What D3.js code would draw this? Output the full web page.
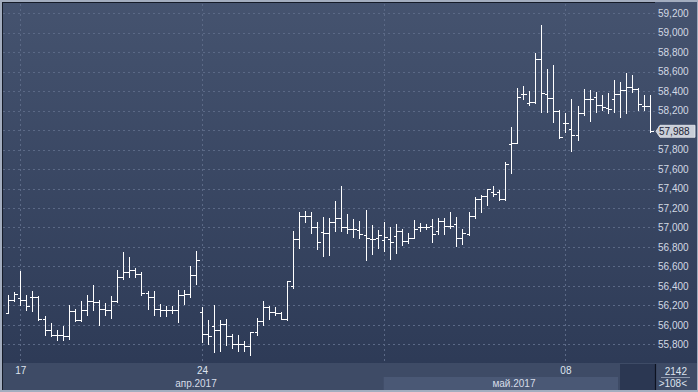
<!DOCTYPE html>
<html><head><meta charset="utf-8">
<script src="https://cdn.jsdelivr.net/npm/d3@7"></script>
<style>html,body{margin:0;padding:0;background:#a3adbf;}svg{display:block;}</style>
</head><body>
<svg id="c" width="698" height="392"></svg>
<script>
const open = [56124,56251,56278,56251,56281,56281,56063,55950,55892,55892,55885,56145,56053,56155,56248,56234,56162,56148,56248,56491,56542,56559,56525,56327,56286,56162,56148,56148,56148,56309,56319,56514,56128,55906,55991,55945,56009,55888,55803,55803,55786,55922,56042,56183,56132,56121,56063,56402,56884,57123,57123,57010,56953,56942,57061,57096,57004,56983,56976,56925,56881,56891,56874,56881,56915,56959,56856,56897,57004,57010,57017,56959,57069,57020,57035,56897,56932,57120,57291,57325,57363,57369,57291,57859,57872,58372,58276,58287,58734,58369,58328,58197,58071,58013,57951,58177,58318,58341,58259,58225,58321,58369,58413,58447,58420,58249,58249];
const high = [56309,56337,56555,56302,56350,56299,56094,56019,55950,55991,56204,56166,56240,56302,56412,56258,56224,56299,56566,56743,56692,56586,56542,56343,56343,56214,56189,56189,56353,56353,56607,56761,56183,56053,56207,56053,56063,55909,55899,55837,55926,56070,56248,56196,56183,56132,56453,56966,57158,57171,57158,57055,57107,57096,57274,57421,57140,57089,57069,57181,57028,56969,57055,57004,57038,56983,56942,57072,57051,57038,57086,57096,57096,57164,57103,56983,57158,57318,57335,57397,57421,57387,57677,58030,58437,58454,58403,58796,59080,58628,58670,58208,58174,58321,58249,58420,58413,58396,58362,58379,58516,58498,58584,58567,58433,58365,58362];
const low = [56124,56240,56207,56155,56145,56053,55899,55881,55847,55847,55855,56035,56035,56104,56155,56001,56104,56073,56230,56473,56487,56487,56309,56166,56104,56094,56094,56121,56025,56214,56286,56419,55820,55801,55724,55735,55789,55762,55727,55735,55693,55892,55994,56063,56097,56060,56053,56378,56788,57055,56942,56781,56702,56720,56959,56959,56948,56907,56891,56668,56730,56788,56761,56676,56737,56822,56843,56891,56959,56983,56846,56935,56932,56994,56805,56830,56918,57096,57164,57233,57328,57284,57284,57558,57866,58321,58259,58276,58184,58187,58085,57920,57985,57787,57900,58156,58095,58190,58208,58174,58190,58139,58174,58396,58208,58208,57979];
const close = [56251,56319,56251,56189,56281,56063,55950,55892,55892,55885,56145,56053,56155,56248,56234,56162,56148,56248,56491,56542,56559,56525,56327,56286,56162,56148,56148,56148,56309,56319,56514,56661,55906,55888,55945,56009,55888,55803,55803,55786,55922,56042,56183,56132,56121,56063,56446,56884,57113,57123,57010,56850,56942,57061,57096,57004,56983,56983,56935,56891,56881,56925,56907,56846,56959,56856,56897,56983,57007,57010,56932,57069,57020,57020,56897,56942,57120,57291,57325,57394,57346,57291,57650,57872,58344,58372,58287,58734,58379,58328,58197,57934,58071,57951,58177,58318,58321,58259,58242,58215,58369,58413,58447,58420,58266,58249,57988];
const yTicks = [55800,56000,56200,56400,56600,56800,57000,57200,57400,57600,57800,58000,58200,58400,58600,58800,59000,59200];
const weekIdx = [2,32,62,92];
const dayLabels = {2:"17",32:"24",92:"08"};
const monthLabels = [{idx:31, text:"апр.2017"}, {idx:83.5, text:"май.2017"}];
const lastValue = 57988;
const infoTop = "2142", infoBottom = ">108<";

const svg = d3.select("#c");
const W=698,H=392, L=3, R=655, T=3, B=363;
const x = d3.scaleLinear().domain([0,106]).range([8.2,650.2]);
const y = d3.scaleLinear().domain([55800,59200]).range([344.3,13.3]);

const defs = svg.append("defs");
const g1 = defs.append("linearGradient").attr("id","bg").attr("x1",0).attr("y1",0).attr("x2",0).attr("y2",1);
g1.append("stop").attr("offset","0%").attr("stop-color","#45536f");
g1.append("stop").attr("offset","100%").attr("stop-color","#2c3955");

// frame
svg.append("rect").attr("x",0).attr("y",0).attr("width",W).attr("height",H).attr("fill","#a3adbf");
svg.append("rect").attr("x",2).attr("y",2).attr("width",W-3).attr("height",388).attr("fill","url(#bg)");
// bottom axis band
svg.append("rect").attr("x",2).attr("y",B).attr("width",W-3).attr("height",390-B).attr("fill","#3e4b66");
svg.append("rect").attr("x",x(62)).attr("y",377).attr("width",618-x(62)).attr("height",13).attr("fill","#4a5875");
svg.append("rect").attr("x",620).attr("y",B+1).attr("width",R-620).attr("height",390-B-1).attr("fill","#2b3752");
svg.append("line").attr("x1",R+0.5).attr("x2",R+0.5).attr("y1",B+1).attr("y2",390).attr("stroke","#0d1220").attr("stroke-width",1.2);
// dark frame lines
svg.append("line").attr("x1",2).attr("x2",R).attr("y1",2.5).attr("y2",2.5).attr("stroke","#151b28");
svg.append("line").attr("x1",2.5).attr("x2",2.5).attr("y1",2).attr("y2",390).attr("stroke","#151b28");

// grid
const grid = svg.append("g").attr("stroke","#5b6986").attr("stroke-dasharray","2,3").attr("stroke-width",1);
grid.selectAll("line.h").data(yTicks).join("line").attr("class","h")
  .attr("x1",L).attr("x2",R).attr("y1",d=>Math.round(y(d))+0.5).attr("y2",d=>Math.round(y(d))+0.5);
grid.selectAll("line.v").data(weekIdx).join("line").attr("class","v")
  .attr("x1",d=>Math.round(x(d))+0.5).attr("x2",d=>Math.round(x(d))+0.5).attr("y1",T+1).attr("y2",B-1);

// y axis
const yAxis = d3.axisRight(y).tickValues(yTicks).tickFormat(d3.format(",")).tickSize(0).tickPadding(3);
const ya = svg.append("g").attr("transform",`translate(${R},0)`).call(yAxis);
ya.select(".domain").remove();
ya.selectAll("text").attr("fill","#d3d9e4").style("font-family","'Liberation Sans',Arial,sans-serif").style("font-size","10px");

// x axis
const xAxis = d3.axisBottom(x).tickValues([2,32,92]).tickFormat(d=>dayLabels[d]).tickSize(0).tickPadding(4);
const xa = svg.append("g").attr("transform",`translate(0,${B})`).call(xAxis);
xa.select(".domain").remove();
xa.selectAll("text").attr("fill","#dde3ee").style("font-family","'Liberation Sans',Arial,sans-serif").style("font-size","10px");
svg.selectAll("text.month").data(monthLabels).join("text").attr("class","month")
  .attr("x",d=>x(d.idx)).attr("y",386.5).attr("text-anchor","middle")
  .attr("fill","#d6dce8").style("font-family","'Liberation Sans',Arial,sans-serif").style("font-size","10px")
  .text(d=>d.text);

// info box
svg.append("text").attr("x",687).attr("y",375).attr("text-anchor","end").attr("fill","#dde3ee")
  .style("font-family","'Liberation Sans',Arial,sans-serif").style("font-size","10px").text(infoTop);
svg.append("line").attr("x1",661).attr("x2",690).attr("y1",377.5).attr("y2",377.5).attr("stroke","#8e99ad");
svg.append("text").attr("x",687).attr("y",387).attr("text-anchor","end").attr("fill","#dde3ee")
  .style("font-family","'Liberation Sans',Arial,sans-serif").style("font-size","10px").text(infoBottom);

// OHLC bars
const idx = d3.range(open.length);
const bars = svg.append("g").attr("stroke","#ffffff").attr("stroke-width",1).attr("shape-rendering","crispEdges");
const cx = i => Math.round(x(i))+0.5;
bars.selectAll("line.hl").data(idx).join("line").attr("class","hl")
  .attr("x1",cx).attr("x2",cx).attr("y1",i=>Math.round(y(high[i]))).attr("y2",i=>Math.round(y(low[i]))+1);
bars.selectAll("line.o").data(idx).join("line").attr("class","o")
  .attr("x1",i=>cx(i)-3).attr("x2",cx).attr("y1",i=>Math.round(y(open[i]))+0.5).attr("y2",i=>Math.round(y(open[i]))+0.5);
bars.selectAll("line.c").data(idx).join("line").attr("class","c")
  .attr("x1",cx).attr("x2",i=>cx(i)+3).attr("y1",i=>Math.round(y(close[i]))+0.5).attr("y2",i=>Math.round(y(close[i]))+0.5);

// last value marker
const ly = y(lastValue);
const lab = svg.append("g");
lab.append("path").attr("d",`M${R+1},${ly} L${R+5},${ly-6} L695,${ly-6} L695,${ly+6} L${R+5},${ly+6} Z`)
  .attr("fill","#c9ced8").attr("stroke","#e8ebf0").attr("stroke-width",0.8);
lab.append("text").attr("x",R+4).attr("y",ly).attr("dy","0.35em").attr("fill","#1b2335")
  .style("font-family","'Liberation Sans',Arial,sans-serif").style("font-size","10px").text(d3.format(",")(lastValue));
</script>
</body></html>
